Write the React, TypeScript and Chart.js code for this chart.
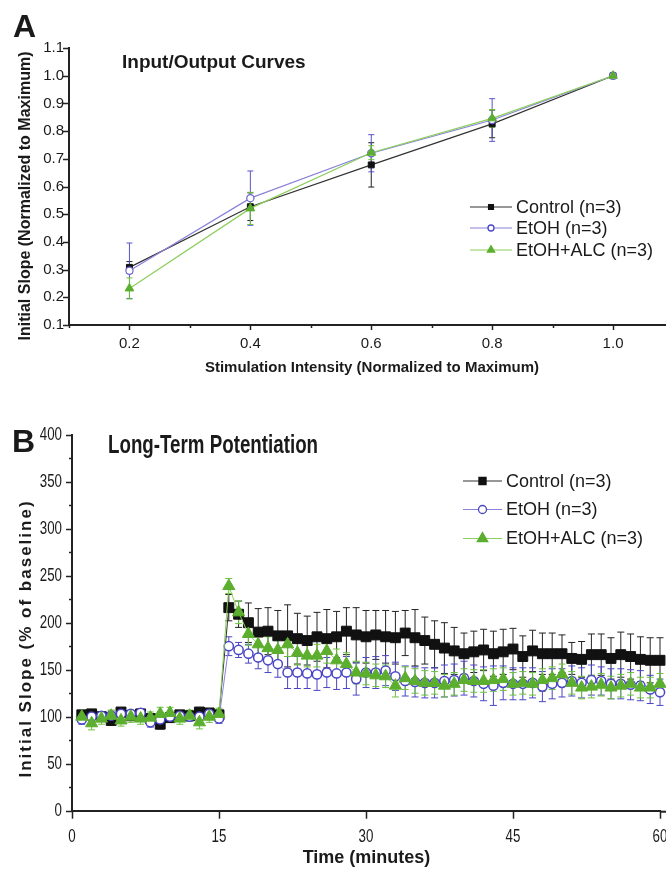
import React, { useEffect, useRef } from 'react';
import { Chart, registerables } from 'chart.js';
Chart.register(...registerables);

const SANS = "'Liberation Sans', Arial, Helvetica, sans-serif";
const TXT = '#1a1a1a';

// ---------- Panel A: Input/Output curves ----------
const ioIntensity = [0.2, 0.4, 0.6, 0.8, 1.0];
const ioControl = [0.308, 0.527, 0.678, 0.826, 1.0];
const ioEtoh = [0.296, 0.558, 0.72, 0.84, 1.0];
const ioAlc = [0.232, 0.521, 0.722, 0.846, 1.0];
const ioControlErr = [0.021, 0.05, 0.08, 0.05, 0];
const ioEtohErr = [0.1, 0.098, 0.067, 0.077, 0];
const ioAlcErr = [0.038, 0.058, 0.025, 0.032, 0];

// ---------- Panel B: LTP ----------
const ltpMinutes = [
  1, 2, 3, 4, 5, 6, 7, 8, 9, 10, 11, 12, 13, 14, 15,
  16, 17, 18, 19, 20, 21, 22, 23, 24, 25, 26, 27, 28, 29, 30,
  31, 32, 33, 34, 35, 36, 37, 38, 39, 40, 41, 42, 43, 44, 45,
  46, 47, 48, 49, 50, 51, 52, 53, 54, 55, 56, 57, 58, 59, 60,
];
const ltpControl = [
  102, 103, 100, 96, 105, 101, 103, 98, 92, 99, 102, 101, 105, 104, 102,
  216, 209, 200, 190, 191, 186, 186, 183, 181, 185, 183, 185, 191, 187, 185,
  187, 185, 184, 189, 184, 181, 177, 173, 170, 167, 169, 171, 167, 169, 172,
  164, 170, 167, 167, 167, 162, 161, 166, 166, 162, 166, 164, 161, 160, 160,
];
const ltpEtoh = [
  97, 100, 101, 101, 103, 103, 104, 94, 97, 100, 101, 100, 100, 103, 98,
  175, 171, 167, 163, 160, 156, 147, 147, 146, 145, 147, 146, 147, 140, 147,
  147, 149, 143, 138, 137, 136, 136, 138, 139, 141, 138, 135, 133, 136, 135,
  135, 136, 132, 135, 136, 138, 136, 139, 138, 135, 135, 134, 133, 129, 126,
];
const ltpAlc = [
  100, 93, 98, 101, 96, 100, 98, 99, 103, 104, 98, 101, 94, 100, 103,
  239, 211, 188, 177, 173, 171, 177, 168, 165, 165, 170, 160, 156, 147, 146,
  144, 143, 133, 141, 138, 136, 136, 133, 135, 139, 138, 138, 139, 140, 135,
  136, 135, 139, 141, 145, 136, 131, 132, 134, 131, 133, 135, 131, 131, 135,
];
const ltpControlErr = [
  4, 3, 4, 5, 3, 4, 3, 4, 5, 4, 3, 4, 3, 4, 4,
  14, 14, 21, 25, 25, 27, 33, 27, 26, 26, 31, 27, 25, 29, 28,
  26, 28, 28, 24, 30, 25, 25, 27, 25, 22, 22, 22, 24, 24, 22,
  22, 22, 22, 22, 20, 17, 19, 22, 22, 22, 24, 24, 24, 24, 24,
];
const ltpEtohErr = [
  5, 4, 4, 5, 4, 4, 4, 5, 5, 4, 4, 4, 4, 5, 5,
  10, 8, 10, 12, 13, 14, 17, 17, 16, 17, 16, 17, 17, 17, 16,
  17, 16, 15, 16, 16, 16, 16, 17, 17, 18, 17, 18, 21, 18, 17,
  17, 16, 16, 16, 15, 16, 16, 16, 15, 16, 16, 16, 16, 15, 14,
];
const ltpAlcErr = [
  6, 7, 6, 6, 6, 6, 6, 6, 7, 6, 6, 6, 7, 6, 6,
  8, 12, 12, 12, 12, 13, 13, 13, 12, 12, 13, 12, 12, 12, 12,
  12, 12, 12, 12, 13, 13, 12, 12, 12, 12, 12, 12, 12, 12, 12,
  12, 12, 12, 12, 11, 12, 12, 12, 12, 12, 12, 12, 11, 11, 11,
];

const seriesNames = ['Control (n=3)', 'EtOH (n=3)', 'EtOH+ALC (n=3)'];
const ioTitle = 'Input/Output Curves';
const ioYTitle = 'Initial Slope (Normalized to Maximum)';
const ioXTitle = 'Stimulation Intensity (Normalized to Maximum)';
const ltpTitle = 'Long-Term Potentiation';
const ltpYTitle = 'Initial Slope (% of baseline)';
const ltpXTitle = 'Time (minutes)';

const COLORS = {
  ctrl: '#111111',
  ctrlLine: '#333333',
  etoh: '#4a46c6',
  etohLine: '#8a82da',
  alc: '#5cae2e',
  alcLine: '#8ccf5c',
  alcErr: '#6cc23c',
};

function drawMarker(ctx: CanvasRenderingContext2D, kind: string, x: number, y: number, r: number, fill: string, stroke: string, lw: number) {
  ctx.save();
  ctx.beginPath();
  if (kind === 'rect') {
    const s = r * Math.SQRT1_2;
    ctx.rect(x - s, y - s, 2 * s, 2 * s);
  } else if (kind === 'circle') {
    ctx.arc(x, y, r, 0, Math.PI * 2);
  } else {
    for (let k = 0; k < 3; k++) {
      const a = (k * 2 * Math.PI) / 3;
      const px = x + Math.sin(a) * r;
      const py = y - Math.cos(a) * r;
      if (k === 0) ctx.moveTo(px, py); else ctx.lineTo(px, py);
    }
    ctx.closePath();
  }
  ctx.fillStyle = fill;
  ctx.fill();
  ctx.lineWidth = lw;
  ctx.strokeStyle = stroke;
  ctx.stroke();
  ctx.restore();
}

const errorBarPlugin = {
  id: 'errbars',
  beforeDatasetsDraw(chart: any) {
    const ctx = chart.ctx;
    const xs = chart.scales.x;
    const ys = chart.scales.y;
    chart.data.datasets.forEach((ds: any) => {
      if (!ds.errors) return;
      ctx.save();
      ctx.strokeStyle = ds.errorColor;
      ctx.lineWidth = ds.errorWidth || 1;
      const cap = ds.capHalf || 3;
      ds.data.forEach((pt: any, j: number) => {
        const e = ds.errors[j];
        if (!e) return;
        const x = xs.getPixelForValue(pt.x);
        const y1 = ys.getPixelForValue(pt.y + e);
        const y2 = ys.getPixelForValue(pt.y - e);
        ctx.beginPath();
        ctx.moveTo(x, y1); ctx.lineTo(x, y2);
        ctx.moveTo(x - cap, y1); ctx.lineTo(x + cap, y1);
        ctx.moveTo(x - cap, y2); ctx.lineTo(x + cap, y2);
        ctx.stroke();
      });
      ctx.restore();
    });
  },
};

function drawAxisTicks(chart: any, o: any) {
  const ctx = chart.ctx;
  const { left, bottom, right } = chart.chartArea;
  const xs = chart.scales.x;
  const ys = chart.scales.y;
  ctx.save();
  ctx.strokeStyle = '#222';
  ctx.lineWidth = o.tickWidth;
  ys.ticks.forEach((t: any) => {
    const p = Math.round(ys.getPixelForValue(t.value)) + 0.5;
    const len = t.label !== '' ? o.yMajor : o.yMinor;
    ctx.beginPath(); ctx.moveTo(left - len, p); ctx.lineTo(left, p); ctx.stroke();
  });
  xs.ticks.forEach((t: any) => {
    const p = Math.round(xs.getPixelForValue(t.value)) + 0.5;
    const len = t.label !== '' ? o.xMajor : o.xMinor;
    if (len <= 0) return;
    ctx.beginPath(); ctx.moveTo(p, bottom); ctx.lineTo(p, bottom + len); ctx.stroke();
  });
  if (o.extendX) {
    ctx.lineWidth = 2;
    ctx.beginPath(); ctx.moveTo(right, bottom + 1); ctx.lineTo(right + o.extendX, bottom + 1); ctx.stroke();
  }
  // custom (horizontally condensed) tick labels
  if (o.labels) {
    const L = o.labels;
    ctx.fillStyle = TXT;
    ctx.font = L.font;
    ctx.textBaseline = 'middle';
    ys.ticks.forEach((t: any) => {
      if (t.label === '') return;
      const p = ys.getPixelForValue(t.value);
      ctx.save();
      ctx.translate(left - L.yGap, p);
      ctx.scale(L.sx, 1);
      ctx.textAlign = 'right';
      ctx.fillText(String(t.label), 0, 0);
      ctx.restore();
    });
    xs.ticks.forEach((t: any) => {
      if (t.label === '') return;
      const p = xs.getPixelForValue(t.value);
      ctx.save();
      ctx.translate(p, bottom + L.xGap);
      ctx.scale(L.sx, 1);
      ctx.textAlign = 'center';
      ctx.fillText(String(t.label), 0, 0);
      ctx.restore();
    });
  }
  ctx.restore();
}

function drawLegend(ctx: CanvasRenderingContext2D, o: any) {
  const kinds = ['rect', 'circle', 'triangle'];
  const lineCols = [COLORS.ctrlLine, COLORS.etohLine, COLORS.alcLine];
  const fills = [COLORS.ctrl, '#ffffff', COLORS.alc];
  const strokes = [COLORS.ctrl, COLORS.etoh, COLORS.alc];
  ctx.save();
  ctx.font = o.font;
  ctx.textBaseline = 'middle';
  ctx.textAlign = 'left';
  seriesNames.forEach((name, i) => {
    const y = o.rows[i];
    ctx.strokeStyle = lineCols[i];
    ctx.lineWidth = 1.2;
    ctx.beginPath(); ctx.moveTo(o.x0, y); ctx.lineTo(o.x1, y); ctx.stroke();
    drawMarker(ctx, kinds[i], (o.x0 + o.x1) / 2, y, o.r[i], fills[i], strokes[i], 1.3);
    ctx.fillStyle = TXT;
    ctx.fillText(name, o.tx, y + 1);
  });
  ctx.restore();
}

const decorPlugin = {
  id: 'decor',
  afterDraw(chart: any, _args: any, o: any) {
    const ctx = chart.ctx;
    drawAxisTicks(chart, o.ticks);
    ctx.save();
    ctx.fillStyle = TXT;
    // Panel letter
    ctx.font = `bold 32px ${SANS}`;
    ctx.textBaseline = 'alphabetic';
    ctx.textAlign = 'left';
    ctx.fillText(o.letter.text, o.letter.x, o.letter.y);
    // Title
    ctx.save();
    ctx.translate(o.title.x, o.title.y);
    ctx.scale(o.title.sx || 1, 1);
    ctx.font = o.title.font;
    ctx.fillText(o.title.text, 0, 0);
    ctx.restore();
    // X title
    ctx.font = o.xTitle.font;
    ctx.textAlign = 'center';
    ctx.textBaseline = 'middle';
    ctx.fillText(o.xTitle.text, o.xTitle.x, o.xTitle.y);
    // Y title
    ctx.save();
    ctx.translate(o.yTitle.x, o.yTitle.y);
    ctx.rotate(-Math.PI / 2);
    ctx.font = o.yTitle.font;
    (ctx as any).letterSpacing = o.yTitle.spacing || '0px';
    ctx.textAlign = 'center';
    ctx.textBaseline = 'alphabetic';
    ctx.fillText(o.yTitle.text, 0, 0);
    ctx.restore();
    ctx.restore();
    drawLegend(ctx, o.legend);
  },
};

function pts(xs: number[], ys: number[]) {
  return xs.map((x, i) => ({ x, y: ys[i] }));
}

function configA(): any {
  return {
    type: 'line',
    data: {
      datasets: [
        {
          label: seriesNames[0], data: pts(ioIntensity, ioControl), errors: ioControlErr,
          errorColor: '#222', capHalf: 3,
          borderColor: COLORS.ctrlLine, borderWidth: 1.2, pointStyle: 'rect', pointRadius: 4.2,
          pointBackgroundColor: COLORS.ctrl, pointBorderColor: COLORS.ctrl, pointBorderWidth: 1, order: 2,
        },
        {
          label: seriesNames[1], data: pts(ioIntensity, ioEtoh), errors: ioEtohErr,
          errorColor: '#5a52cc', capHalf: 3,
          borderColor: COLORS.etohLine, borderWidth: 1.2, pointStyle: 'circle', pointRadius: 3.6,
          pointBackgroundColor: '#ffffff', pointBorderColor: '#6a62d2', pointBorderWidth: 1.2, order: 1,
        },
        {
          label: seriesNames[2], data: pts(ioIntensity, ioAlc), errors: ioAlcErr,
          errorColor: COLORS.alcErr, capHalf: 3,
          borderColor: COLORS.alcLine, borderWidth: 1.2, pointStyle: 'triangle', pointRadius: 5,
          pointBackgroundColor: COLORS.alc, pointBorderColor: COLORS.alc, pointBorderWidth: 1, order: 0,
        },
      ],
    },
    options: {
      animation: false,
      responsive: false,
      events: [],
      layout: { padding: { left: 0, top: 48, right: 16.5, bottom: 0 } },
      plugins: {
        legend: { display: false },
        tooltip: { enabled: false },
        decor: {
          ticks: { yMajor: 6, yMinor: 3, xMajor: 5, xMinor: 3, tickWidth: 1.5 },
          letter: { text: 'A', x: 13, y: 37 },
          title: { text: ioTitle, x: 122, y: 68, font: `bold 19px ${SANS}` },
          xTitle: { text: ioXTitle, x: 372, y: 368, font: `bold 15px ${SANS}` },
          yTitle: { text: ioYTitle, x: 30, y: 196, font: `bold 16px ${SANS}` },
          legend: { x0: 470, x1: 512, tx: 516, rows: [207, 228, 250], r: [3.4, 3, 4.2], font: `18px ${SANS}` },
        },
      },
      scales: {
        x: {
          type: 'linear', min: 0.1, max: 1.1,
          grid: { display: false, drawTicks: false },
          border: { display: true, color: '#222', width: 2 },
          afterFit: (s: any) => { s.height = 65; },
          ticks: {
            stepSize: 0.1, padding: 10, color: TXT, font: { family: SANS, size: 15 },
            callback: (v: number) => {
              const k = Math.round(v * 10);
              return k % 2 === 0 && k >= 2 && k <= 10 ? (k / 10).toFixed(1) : '';
            },
          },
        },
        y: {
          type: 'linear', min: 0.1, max: 1.1,
          grid: { display: false, drawTicks: false },
          border: { display: true, color: '#222', width: 2 },
          afterFit: (s: any) => { s.width = 69; },
          ticks: {
            stepSize: 0.05, padding: 5, color: TXT, font: { family: SANS, size: 15 },
            callback: (v: number) => {
              const k = Math.round(v * 100);
              return k % 10 === 0 ? (k / 100).toFixed(1) : '';
            },
          },
        },
      },
    },
    plugins: [errorBarPlugin, decorPlugin],
  };
}

function configB(): any {
  return {
    type: 'line',
    data: {
      datasets: [
        {
          label: seriesNames[0], data: pts(ltpMinutes, ltpControl), errors: ltpControlErr,
          errorColor: '#222', capHalf: 3.5,
          borderColor: COLORS.ctrlLine, borderWidth: 1, pointStyle: 'rect', pointRadius: 7,
          pointBackgroundColor: COLORS.ctrl, pointBorderColor: COLORS.ctrl, pointBorderWidth: 1, order: 2,
        },
        {
          label: seriesNames[1], data: pts(ltpMinutes, ltpEtoh), errors: ltpEtohErr,
          errorColor: '#4a46c6', capHalf: 3.5,
          borderColor: COLORS.etohLine, borderWidth: 1, pointStyle: 'circle', pointRadius: 4.6,
          pointBackgroundColor: '#ffffff', pointBorderColor: COLORS.etoh, pointBorderWidth: 1.5, order: 1,
        },
        {
          label: seriesNames[2], data: pts(ltpMinutes, ltpAlc), errors: ltpAlcErr,
          errorColor: COLORS.alcErr, capHalf: 3.5,
          borderColor: COLORS.alcLine, borderWidth: 1, pointStyle: 'triangle', pointRadius: 7,
          pointBackgroundColor: COLORS.alc, pointBorderColor: COLORS.alc, pointBorderWidth: 1, order: 0,
        },
      ],
    },
    options: {
      animation: false,
      responsive: false,
      events: [],
      layout: { padding: { left: 0, top: 19.7, right: 30, bottom: 0 } },
      elements: { line: { tension: 0 } },
      datasets: { line: { clip: false } },
      plugins: {
        legend: { display: false },
        tooltip: { enabled: false },
        decor: {
          ticks: {
            yMajor: 6, yMinor: 3, xMajor: 8, xMinor: 0, tickWidth: 1.5, extendX: 6,
            labels: { font: `18px ${SANS}`, sx: 0.74, yGap: 10, xGap: 26 },
          },
          letter: { text: 'B', x: 12, y: 37 },
          title: { text: ltpTitle, x: 108, y: 38, sx: 0.75, font: `bold 25px ${SANS}` },
          xTitle: { text: ltpXTitle, x: 366.5, y: 443, font: `bold 18px ${SANS}` },
          yTitle: { text: ltpYTitle, x: 31, y: 223.5, font: `bold 17px ${SANS}`, spacing: '2px' },
          legend: { x0: 463, x1: 502, tx: 506, rows: [66, 94.5, 123.5], r: [5, 4, 6], font: `18px ${SANS}` },
        },
      },
      scales: {
        x: {
          type: 'linear', min: 0, max: 60,
          grid: { display: false, drawTicks: false },
          border: { display: true, color: '#222', width: 2 },
          afterFit: (s: any) => { s.height = 60.3; },
          ticks: {
            display: false, stepSize: 15,
            callback: (v: number) => (v % 15 === 0 ? String(v) : ''),
          },
        },
        y: {
          type: 'linear', min: 0, max: 400,
          grid: { display: false, drawTicks: false },
          border: { display: true, color: '#222', width: 2 },
          afterFit: (s: any) => { s.width = 72; },
          ticks: {
            display: false, stepSize: 25,
            callback: (v: number) => (v % 50 === 0 ? String(v) : ''),
          },
        },
      },
    },
    plugins: [errorBarPlugin, decorPlugin],
  };
}

function ChartCanvas({ make, width, height, top }: { make: () => any; width: number; height: number; top: number }) {
  const ref = useRef<HTMLCanvasElement | null>(null);
  useEffect(() => {
    if (!ref.current) return;
    const chart = new Chart(ref.current, make());
    return () => chart.destroy();
  }, []);
  return (
    <canvas
      ref={ref}
      width={width}
      height={height}
      style={{ position: 'absolute', left: 0, top, width, height, display: 'block' }}
    />
  );
}

export default function App() {
  return (
    <div style={{ position: 'absolute', left: 0, top: 0, width: 666, height: 871, overflow: 'hidden', background: '#fff' }}>
      <ChartCanvas make={configA} width={690} height={390} top={0} />
      <ChartCanvas make={configB} width={690} height={456} top={415} />
    </div>
  );
}
